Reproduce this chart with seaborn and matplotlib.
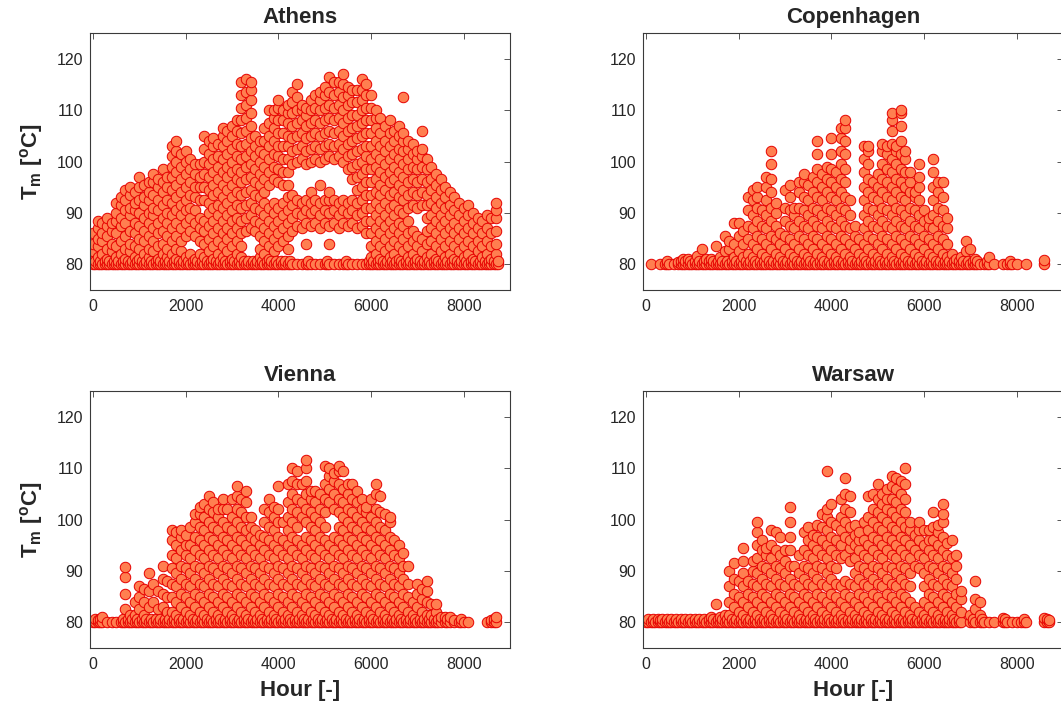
import matplotlib
matplotlib.use("Agg")
import matplotlib.pyplot as plt
import pandas as pd
import seaborn as sns

sns.set_theme(style="white")
plt.rcParams["font.family"] = ["Liberation Sans", "DejaVu Sans"]
plt.rcParams["mathtext.fontset"] = "custom"
plt.rcParams["mathtext.rm"] = "Liberation Sans"
plt.rcParams["mathtext.bf"] = "Liberation Sans:bold"

# ---------------- data ----------------
cities = ["Athens", "Copenhagen", "Vienna", "Warsaw"]
hours = list(range(0, 8800, 100))          # one column of samples per 100 h
x_ticks = [0, 2000, 4000, 6000, 8000]
y_ticks = [80, 90, 100, 110, 120]

athens_temp = [
    [80, 81, 82.5, 84, 86],                                  # 0
    [80, 81.5, 83.5, 85, 87, 88.5],
    [80, 82, 84.5, 86, 88],
    [80, 81, 83, 85.5, 87.5, 89],
    [80, 82.5, 84, 86.5, 88],
    [80, 81.5, 83.5, 86, 88.5, 90, 92],                      # 500
    [80, 82, 84.5, 87.5, 89, 91.5, 93],
    [80, 81, 83, 85.5, 88, 90.5, 92.5, 94.5],
    [80, 82.5, 84, 86.5, 89.5, 91, 93.5, 95],
    [80, 81.5, 83.5, 86, 88, 90.5, 92, 94],
    [80, 81, 83, 85, 87.5, 90, 92.5, 95, 97],                # 1000
    [80, 82, 84.5, 86.5, 89, 91.5, 93, 95.5],
    [80, 81.5, 83, 85.5, 88, 90, 92.5, 94, 96],
    [80, 82.5, 84.5, 87, 89.5, 91, 93.5, 96, 97.5],
    [80, 81, 83.5, 86, 88, 90.5, 92.5, 95, 96.5],
    [80, 82, 84, 86.5, 89, 91.5, 94, 96, 98.5],              # 1500
    [80, 81.5, 83, 85.5, 88, 90, 92.5, 95, 97],
    [80, 82, 84.5, 87, 89.5, 92, 94.5, 97, 99, 101, 103],
    [80, 81, 83, 85.5, 88, 90.5, 93, 95.5, 98, 100, 102, 104],
    [80, 82.5, 84.5, 87, 89.5, 91.5, 94, 96.5, 99, 101.5],
    [80, 81.5, 85.5, 88, 90.5, 92.5, 95, 97.5, 100, 102],    # 2000
    [80, 82, 86.5, 89, 91, 93.5, 96, 98.5, 100.5],
    [80, 81, 85.5, 88, 90.5, 93, 95, 97.5, 99.5],
    [80, 82, 84.5, 87, 89, 92.5, 95, 97, 99.5],
    [80, 81.5, 84, 86.5, 88.5, 92.5, 95, 97.5, 100, 102.5, 105],
    [80, 82.5, 85, 87.5, 90, 92, 94.5, 97, 99.5, 101.5, 104],  # 2500
    [80, 81, 83.5, 86, 88.5, 91, 93.5, 95.5, 98, 100.5, 103, 104.5],
    [80, 82, 84.5, 87, 89.5, 91.5, 94, 96.5, 99, 101, 103.5],
    [80, 81.5, 83.5, 86, 88.5, 91, 93, 95.5, 98, 100.5, 103, 105, 106.5],
    [80, 82.5, 85, 87, 89.5, 92, 94.5, 97, 99, 101.5, 104, 106],
    [80, 81, 83.5, 86, 88.5, 90.5, 93, 95.5, 98, 100, 102.5, 105, 107],  # 3000
    [80, 82, 84.5, 87, 89, 91.5, 94, 96.5, 98.5, 101, 103.5, 106, 108],
    [80, 81.5, 83.5, 86, 88.5, 91, 93.5, 96, 98, 100.5, 103, 105.5, 108,
     110.5, 113, 115.5],
    [80, 86.5, 89, 91.5, 94, 96.5, 99, 101, 103.5, 106, 108.5, 111, 113.5, 116],
    [80, 87, 89.5, 92, 94.5, 97, 99.5, 102, 104.5, 107, 109.5, 112, 114, 115.5],
    [80, 86.5, 88.5, 91, 93.5, 96, 98.5, 101, 103, 105],     # 3500
    [80, 81.5, 83, 85.5, 88, 90.5, 93, 95.5, 97.5, 100, 102, 104],
    [80, 82, 84.5, 87, 89.5, 92, 94, 96.5, 99, 101.5, 104, 106.5],
    [80, 81, 83.5, 86, 88.5, 91, 95.5, 98, 100.5, 103, 105, 107.5, 110],
    [80, 82.5, 85, 87.5, 90, 92, 96.5, 99, 101.5, 104, 106.5, 108.5, 110],
    [80, 83.5, 86, 88.5, 91, 96, 98.5, 101, 103, 105.5, 108, 110.5, 112],  # 4000
    [80, 84.5, 87, 89.5, 92, 95.5, 98, 100.5, 103, 105.5, 108, 110],
    [80, 83, 85.5, 88, 90.5, 93, 95.5, 98, 100.5, 103, 105, 107.5, 109.5, 111],
    [80, 86.5, 89, 91.5, 93.5, 99.5, 102, 104.5, 107, 109.5, 111.5, 113.5],
    [80, 87.5, 90, 92.5, 100, 102.5, 105, 107.5, 110, 112.5, 115],
    [80, 87, 89.5, 92, 100.5, 103, 105.5, 108, 110, 111],    # 4500
    [80, 84, 88, 90.5, 92.5, 99.5, 102, 104.5, 107, 109, 110.5],
    [80, 87.5, 90, 92, 94, 100, 102.5, 105, 107.5, 110, 112],
    [80, 88, 90.5, 92.5, 100.5, 103, 105.5, 108, 110.5, 113],
    [80, 87, 89.5, 92, 95.5, 100, 102.5, 105, 107.5, 110, 112, 113.5],
    [80, 88, 90.5, 92.5, 100.5, 103, 105.5, 108, 110.5, 113, 114.5],  # 5000
    [80, 84, 87.5, 90, 92.5, 94, 101, 103.5, 106, 108.5, 111, 113.5, 116.5],
    [80, 88, 90.5, 92.5, 100.5, 103, 105.5, 108, 110.5, 113, 115.5],
    [80, 87, 89.5, 92, 101, 103.5, 106, 108.5, 111, 113.5, 115.5],
    [80, 88, 90.5, 92.5, 100, 102.5, 105, 107.5, 110, 112.5, 115, 117],
    [80, 87.5, 90, 92, 98.5, 101, 103.5, 106, 108.5, 111, 113, 114.5],  # 5500
    [80, 88, 90.5, 92.5, 96.5, 99, 101.5, 104, 106.5, 109, 111.5, 114],
    [80, 87, 89.5, 92, 94.5, 97, 99.5, 102, 104.5, 107, 109, 111.5, 114],
    [80, 87.5, 90, 92.5, 95, 97.5, 100, 102.5, 105, 107.5, 110, 112, 114, 116],
    [80, 86, 88.5, 91, 93.5, 96, 98.5, 101, 103, 105.5, 108, 110.5, 113, 115],
    [80, 81.5, 83.5, 86, 88.5, 91, 93.5, 96, 98.5, 100.5, 103, 105.5, 108,
     110.5, 113],                                            # 6000
    [80, 82, 84.5, 87, 89.5, 92, 94, 96.5, 99, 101.5, 104, 106.5, 108.5, 110],
    [80, 81, 83.5, 86, 88.5, 91, 93.5, 95.5, 98, 100.5, 103, 105.5, 108.5],
    [80, 82.5, 85, 87.5, 89.5, 92, 94.5, 97, 99.5, 102, 104, 107],
    [80, 81.5, 83.5, 86, 88.5, 91, 93.5, 96, 98, 100.5, 103, 105.5, 108],
    [80, 82, 84.5, 87, 89.5, 91.5, 94, 96.5, 99, 101.5, 104, 106],  # 6500
    [80, 81, 83.5, 86, 88, 90.5, 93, 95.5, 98, 100.5, 102.5, 105, 107],
    [80, 82.5, 85, 87.5, 90, 92.5, 94.5, 97, 99.5, 102, 104, 105.5, 112.5],
    [80, 81.5, 83.5, 86, 88.5, 91, 93.5, 96, 98.5, 100.5, 102.5, 104],
    [80, 82, 84.5, 86.5, 91.5, 94, 96.5, 99, 101.5, 103.5],
    [80, 81, 83.5, 85.5, 91, 93.5, 96, 98.5, 100.5, 102],    # 7000
    [80, 82.5, 85, 91.5, 94, 96.5, 99, 101, 102.5, 106],
    [80, 81.5, 84, 86.5, 89, 91.5, 93.5, 96, 98.5, 100.5],
    [80, 82, 84.5, 87, 89.5, 92, 94.5, 96.5, 99],
    [80, 81, 83.5, 86, 88.5, 91, 93, 95.5, 97.5],
    [80, 82.5, 85, 87.5, 89.5, 92, 94.5, 96.5],              # 7500
    [80, 81.5, 83.5, 86, 88.5, 91, 93, 95],
    [80, 82, 84.5, 87, 89.5, 91.5, 94],
    [80, 81, 83.5, 86, 88, 90.5, 93],
    [80, 82.5, 85, 87, 89.5, 92],
    [80, 81.5, 83.5, 86, 88.5, 91],                          # 8000
    [80, 82, 84.5, 87, 89.5, 91.5],
    [80, 81, 83.5, 86, 88, 90],
    [80, 82.5, 84.5, 87, 89],
    [80, 81.5, 83.5, 86, 88.5],
    [80, 82, 84.5, 87, 89.5],                                # 8500
    [80, 81, 83.5, 86, 89],
    [80, 82, 84, 86.5, 89, 90.5, 92],
]

copenhagen_temp = [
    [], [80], [], [80], [80],                                # 0-400
    [80], [80], [80, 80.5], [80, 81], [80, 81],              # 500-900
    [80], [80, 81.7], [80, 83], [80, 81], [80, 81],          # 1000-1400
    [80, 83.5], [80, 81.5], [80, 82.5, 85.5], [80, 83, 84.5],
    [80, 81.5, 84, 88],
    [80, 82.5, 85.5, 88], [80, 81.5, 84, 86.5],              # 2000
    [80, 82, 85, 87.5, 90.5, 93],
    [80, 81.5, 84, 87, 89.5, 92.5, 94.5],
    [80, 83, 85.5, 88.5, 91, 93, 95],
    [80, 82, 85, 87.5, 90.5],                                # 2500
    [80, 81.5, 84, 87, 89.5, 92.5, 95, 97],
    [80, 83, 85.5, 88.5, 91, 94, 96.5, 99.5, 102],
    [80, 82, 85, 87.5, 90, 92],
    [80, 81.5, 84, 86],
    [80, 83, 85.5, 88.5, 91, 94.5],                          # 3000
    [80, 82, 85, 87.5, 90.5, 93, 95.5],
    [80, 81.5, 84, 87, 89.5, 91],
    [80, 83, 85.5, 88.5, 91, 94, 96],
    [80, 82, 85, 87.5, 90.5, 93, 96, 97.5],
    [80, 81.5, 84, 87, 89.5, 92.5, 95.5],                    # 3500
    [80, 83, 85.5, 88.5, 91, 94, 97],
    [80, 82, 85, 87.5, 90.5, 93, 96, 98.5, 101.5, 104],
    [80, 81.5, 84, 87, 89.5, 92.5, 95, 97.5],
    [80, 83, 85.5, 88.5, 91, 94, 96.5, 99],
    [80, 82, 85, 87.5, 90.5, 93, 96, 98.5, 101.5, 104.5],    # 4000
    [80, 81.5, 84, 87, 89.5, 92.5, 95, 98],
    [80, 83, 85.5, 88.5, 91, 94, 96.5, 99.5, 102, 104.5, 106.5],
    [80, 82, 85, 87.5, 90.5, 93, 96, 98.5, 101.5, 104, 106.5, 108],
    [80, 81.5, 84, 87, 89.5, 92.5],
    [80, 83, 85.5, 87.5],                                    # 4500
    [80, 82, 85],
    [80, 81.5, 84, 87, 89.5, 92.5, 95, 98, 100.5, 103],
    [80, 83, 85.5, 88.5, 91, 94, 96.5, 99.5, 102, 103],
    [80, 82, 85, 87.5, 90.5, 93, 96],
    [80, 81.5, 84, 87, 89.5, 92.5, 95, 97.5],                # 5000
    [80, 83, 85.5, 88.5, 91, 94, 96.5, 99.5, 102, 103.5],
    [80, 82, 85, 87.5, 90.5, 93, 96, 98.5, 101.5, 103],
    [80, 81.5, 84, 87, 89.5, 92.5, 95, 98, 100.5, 103.5, 106, 108, 109.5],
    [80, 83, 85.5, 88.5, 91, 94, 96.5, 99.5, 102, 103],
    [80, 82, 85, 87.5, 90.5, 93, 96, 98.5, 101.5, 104, 107, 109.5, 110],  # 5500
    [80, 81.5, 84, 87, 89.5, 92.5, 95, 98, 100.5, 102],
    [80, 83, 85.5, 88.5, 91, 94, 96, 98],
    [80, 82, 85, 87.5, 90.5, 93, 94],
    [80, 81.5, 84, 87, 89.5, 92.5, 95, 97, 99.5],
    [80, 83, 85.5, 88.5, 90.5],                              # 6000
    [80, 82, 85, 87.5, 89],
    [80, 81.5, 84, 87, 89.5, 92.5, 95, 98, 100.5],
    [80, 83, 85.5, 88.5, 91, 94, 96],
    [80, 82, 85, 87.5, 90.5, 93, 96],
    [80, 81.5, 84, 87, 89],                                  # 6500
    [80, 82], [80, 81], [80, 81.5], [80, 82.5, 84.5],
    [80, 83], [80, 81], [80], [80], [80, 81.5],              # 7000-7400
    [80], [], [80], [80], [80],                              # 7500-7900
    [80], [], [80], [], [],                                  # 8000-8400
    [], [80, 80.8], [],                                      # 8500-8700
]

vienna_temp = [
    [80], [80, 80.5], [80, 81], [80], [80],                  # 0-400
    [80], [80], [80, 82.5, 85.5, 88.8, 90.8], [80, 81.5], [80, 81.5, 84],
    [80, 82.5, 85, 87],                                      # 1000
    [80, 81.5, 84, 86.5],
    [80, 83, 86, 89.5],
    [80, 84, 87.5],
    [80, 82.5, 86],
    [80, 83, 85.5, 88.5, 91],                                # 1500
    [80, 82, 85, 88],
    [80, 82, 85, 87.5, 90.5, 93, 96, 98],
    [80, 81.5, 84, 87, 89.5, 92.5, 95, 97.5],
    [80, 83, 85.5, 88.5, 91, 94, 96.5, 98],
    [80, 82, 85, 87.5, 90.5, 93, 95, 97],                    # 2000
    [80, 81.5, 84, 87, 89.5, 92.5, 95, 98.5],
    [80, 83, 85.5, 88.5, 91, 94, 96.5, 99.5, 101],
    [80, 82, 85, 87.5, 90.5, 93, 96, 98.5, 101, 102.5],
    [80, 81.5, 84, 87, 89.5, 92.5, 95, 98, 100.5, 103],
    [80, 83, 85.5, 88.5, 91, 94, 96.5, 99.5, 102, 104.5],    # 2500
    [80, 82, 85, 87.5, 90.5, 93, 96, 98.5, 101.5, 103.5],
    [80, 81.5, 84, 87, 89.5, 92.5, 95, 98, 100.5, 102],
    [80, 83, 85.5, 88.5, 91, 94, 96.5, 99.5, 102, 104],
    [80, 82, 85, 87.5, 90.5, 93, 96, 98.5, 102],
    [80, 81.5, 84, 87, 89.5, 92.5, 95, 98, 100.5, 104],      # 3000
    [80, 83, 85.5, 88.5, 91, 94, 96.5, 99.5, 102, 104.5, 106.5],
    [80, 82, 85, 87.5, 90.5, 93, 96, 98.5, 101.5, 104],
    [80, 81.5, 84, 87, 89.5, 92.5, 95, 98, 100.5, 103.5, 105.5],
    [80, 83, 85.5, 88.5, 91, 94, 96.5, 98.5, 100.5],
    [80, 82, 85, 87.5, 90.5, 93, 96, 98],                    # 3500
    [80, 81.5, 84, 87, 89.5, 92.5, 95, 97],
    [80, 83, 85.5, 88.5, 91, 94, 96.5, 99.5, 102],
    [80, 82, 85, 87.5, 90.5, 93, 96, 98.5, 101.5, 104],
    [80, 81.5, 84, 87, 89.5, 92.5, 95, 98, 100.5, 102.5],
    [80, 83, 85.5, 88.5, 91, 94, 96.5, 99.5, 102, 106.5],    # 4000
    [80, 82, 85, 87.5, 90.5, 93, 96, 99.5],
    [80, 81.5, 84, 87, 89.5, 92.5, 95, 98, 100.5, 103.5, 107],
    [80, 83, 85.5, 88.5, 91, 94, 96.5, 99.5, 102, 105, 107.5, 110],
    [80, 82, 85, 87.5, 90.5, 93, 96, 98.5, 101.5, 104, 107, 109.5],
    [80, 81.5, 84, 87, 89.5, 92.5, 95, 100.5, 103.5, 107],   # 4500
    [80, 83, 85.5, 88.5, 91, 94, 96.5, 99.5, 102, 105, 107.5, 110, 111.5],
    [80, 82, 85, 87.5, 90.5, 93, 96, 98.5, 101.5, 104, 105.5],
    [80, 81.5, 84, 87, 89.5, 92.5, 95, 98, 100.5, 103.5, 105.5],
    [80, 83, 85.5, 88.5, 91, 94, 96.5, 99.5, 102, 105],
    [80, 82, 85, 87.5, 90.5, 93, 96, 98.5, 101.5, 104, 107, 110.5],  # 5000
    [80, 81.5, 84, 87, 89.5, 92.5, 95, 103.5, 106, 108.5, 110],
    [80, 83, 85.5, 88.5, 91, 94, 96.5, 102, 105, 107.5, 109],
    [80, 82, 85, 87.5, 90.5, 93, 96, 98.5, 101.5, 104, 107, 109.5, 110.5],
    [80, 81.5, 84, 87, 89.5, 92.5, 95, 98, 100.5, 103.5, 106, 109.5],
    [80, 83, 85.5, 88.5, 91, 94, 96.5, 99.5, 102, 105, 107],  # 5500
    [80, 82, 85, 87.5, 90.5, 93, 96, 98.5, 101.5, 104, 107],
    [80, 81.5, 84, 87, 89.5, 92.5, 95, 98, 100.5, 103.5, 105.5],
    [80, 83, 85.5, 88.5, 91, 94, 96.5, 99.5, 102, 104],
    [80, 82, 85, 87.5, 90.5, 93, 96, 98.5, 101.5, 102.5],
    [80, 81.5, 84, 87, 89.5, 92.5, 95, 98, 100.5, 104],      # 6000
    [80, 83, 85.5, 88.5, 91, 94, 96.5, 99.5, 102, 105, 107],
    [80, 82, 85, 87.5, 90.5, 93, 96, 98.5, 101.5, 104.5],
    [80, 81.5, 84, 87, 89.5, 92.5, 95, 98, 101],
    [80, 83, 85.5, 88.5, 91, 94, 96.5, 99.5, 100.5],
    [80, 82, 85, 87.5, 90.5, 93, 96],                        # 6500
    [80, 81.5, 84, 87, 89.5, 92.5, 95],
    [80, 83, 85.5, 88.5, 91, 93.5],
    [80, 82, 85, 87.5, 91],
    [80, 81.5, 84],
    [80, 83, 85.5, 87.5],                                    # 7000
    [80, 82, 84.5, 86.5],
    [80, 81.5, 84, 86, 88],
    [80, 81.5, 83.5],
    [80, 82, 83.5],
    [80, 81], [80, 81], [80, 81], [80, 80.5], [80],          # 7500-7900
    [80], [80], [], [], [],                                  # 8000-8400
    [80], [80, 80.5], [80, 81],                              # 8500-8700
]

warsaw_temp = [
    [80], [80], [80], [80, 80.5], [80],                      # 0-400
    [80], [80], [80], [80], [80],                            # 500-900
    [80], [80], [80], [80], [80, 81],                        # 1000-1400
    [80, 83.5], [80, 81], [80, 81.5],
    [80, 81.5, 84, 87, 90],
    [80, 83, 85.5, 88.5, 91.5],
    [80, 82, 85, 88],                                        # 2000
    [80, 81.5, 84, 87, 89.5, 92, 94.5],
    [80, 83, 85.5, 88],
    [80, 82, 85, 87.5, 90, 92],
    [80, 81.5, 84, 87, 89.5, 92.5, 95, 97.5, 99.5],
    [80, 83, 85.5, 88.5, 91, 94, 96],                        # 2500
    [80, 82, 85, 87.5, 90.5, 93, 94.5],
    [80, 81.5, 84, 87, 89.5, 92.5, 95, 98],
    [80, 83, 85.5, 88.5, 91, 94, 97.5],
    [80, 82, 85, 87.5, 90.5, 93, 96.5],
    [80, 81.5, 84, 87, 89.5, 92, 94],                        # 3000
    [80, 83, 85.5, 88.5, 91, 94, 96.5, 99.5, 102.5],
    [80, 82, 85, 87.5, 91],
    [80, 81.5, 84, 87, 89.5, 93],
    [80, 83, 85.5, 88.5, 91, 94, 97.5],
    [80, 82, 85, 87.5, 90.5, 93, 96, 98.5],                  # 3500
    [80, 81.5, 84, 87, 89.5, 92.5, 95, 97],
    [80, 83, 85.5, 88.5, 91, 94, 96.5, 99],
    [80, 82, 85, 87.5, 90.5, 93, 96, 98.5, 101],
    [80, 81.5, 84, 87, 89.5, 92.5, 95, 98, 100.5, 102, 109.5],
    [80, 83, 85.5, 88.5, 91, 94, 96.5, 99.5, 103],           # 4000
    [80, 82, 85, 87.5, 90.5, 93, 96, 99],
    [80, 81.5, 84, 87, 92.5, 95, 98, 100.5, 104],
    [80, 83, 85.5, 88, 93, 96.5, 99.5, 102, 105, 108],
    [80, 82, 85, 87.5, 92, 94.5, 96, 98.5, 101.5, 104.5],
    [80, 81.5, 84, 87, 89.5, 92.5, 95, 97, 99],              # 4500
    [80, 83, 85.5, 88.5, 91, 94, 96, 97.5],
    [80, 82, 85, 87.5, 90.5, 93, 96, 99.5],
    [80, 81.5, 84, 87, 89.5, 92.5, 95, 98, 100.5, 104.5],
    [80, 83, 85.5, 88.5, 91, 94, 96.5, 99.5, 102, 105],
    [80, 82, 85, 87.5, 90.5, 93, 96, 98.5, 101.5, 104, 107],  # 5000
    [80, 81.5, 84, 87, 89.5, 92.5, 95, 98, 100.5, 103, 105],
    [80, 83, 85.5, 88.5, 91, 94, 96.5, 99.5, 102, 104, 106],
    [80, 82, 85, 87.5, 90.5, 93, 96, 98.5, 101.5, 104, 106.5, 108.5],
    [80, 81.5, 84, 87, 89.5, 92.5, 95, 98, 100.5, 103.5, 106, 108],
    [80, 83, 85.5, 88.5, 91, 94, 96.5, 99.5, 102, 105, 107.5],  # 5500
    [80, 82, 85, 87.5, 90.5, 93, 96, 98.5, 101.5, 104, 107, 110],
    [80, 81.5, 84, 87, 89.5, 92.5, 95, 98, 99.5],
    [80, 83, 91, 94, 97],
    [80, 82, 90.5, 93, 96, 98, 99.5],
    [80, 81.5, 84, 87, 89.5, 92.5, 95, 98],                  # 6000
    [80, 83, 85.5, 88.5, 91, 94, 96, 98],
    [80, 82, 85, 87.5, 90.5, 93, 96, 98.5, 101.5],
    [80, 81.5, 84, 87, 89.5, 92.5, 95, 97.5, 99],
    [80, 83, 85.5, 88.5, 91, 94, 96.5, 99.5, 101, 103],
    [80, 82, 85, 87.5, 90.5, 93, 95.5],                      # 6500
    [80, 81.5, 84, 87, 89.5, 92.5, 96],
    [80, 83, 85.5, 88.5, 91, 93],
    [80, 82, 84.5, 86],
    [],
    [80, 81.5], [80, 82.5, 84.5, 88], [80, 81.5, 84], [80], [80],    # 7000-7400
    [80], [], [80, 80.8], [80], [80],                        # 7500-7900
    [80], [80], [80], [], [],                                # 8000-8400
    [], [80, 80.8], [80, 80.5],                              # 8500-8700
]

# extra samples sitting on the 80 degC floor band (hours)
athens_base = [50, 150, 250, 350, 450, 550, 650, 750, 850, 950, 1050, 1150,
               1250, 1350, 1450, 1550, 1650, 1750, 1850, 1950, 2050, 2150,
               2250, 2350, 2450, 2550, 2650, 2750, 2850, 2950, 3050, 3150,
               3250, 3350, 3450, 3550, 3650, 3750, 3850, 3950, 4050, 4150,
               4250, 4650, 5050, 5450, 5950, 6050, 6150, 6250, 6350, 6450,
               6550, 6650, 6750, 6850, 6950, 7050, 7150, 7250, 7350, 7450,
               7550, 7650, 7750, 7850, 7950, 8050, 8150, 8250, 8350, 8450,
               8550, 8650, 8750]
copenhagen_base = [450, 750, 850, 950, 1050, 1150, 1250, 1350, 1450, 1550,
                   1650, 1750, 1850, 1950, 2050, 2150, 2250, 2350, 2450, 2550,
                   2650, 2750, 2850, 2950, 3050, 3150, 3250, 3350, 3450, 3550,
                   3650, 3750, 3850, 3950, 4050, 4150, 4250, 4350, 4450, 4550,
                   4650, 4750, 4850, 4950, 5050, 5150, 5250, 5350, 5450, 5550,
                   5650, 5750, 5850, 5950, 6050, 6150, 6250, 6350, 6450, 6550,
                   6650, 6750, 6850, 6950, 7050, 7150, 7350, 7850]
vienna_base = [50, 150, 650, 750, 850, 950, 1050, 1150, 1250, 1350, 1450,
               1550, 1650, 1750, 1850, 1950, 2050, 2150, 2250, 2350, 2450,
               2550, 2650, 2750, 2850, 2950, 3050, 3150, 3250, 3350, 3450,
               3550, 3650, 3750, 3850, 3950, 4050, 4150, 4250, 4350, 4450,
               4550, 4650, 4750, 4850, 4950, 5050, 5150, 5250, 5350, 5450,
               5550, 5650, 5750, 5850, 5950, 6050, 6150, 6250, 6350, 6450,
               6550, 6650, 6750, 6850, 6950, 7050, 7150, 7250, 7350, 7450,
               7650, 7950, 8650]
warsaw_base = [50, 150, 250, 350, 450, 550, 650, 750, 850, 950, 1050, 1150,
               1250, 1350, 1450, 1550, 1650, 1750, 1850, 1950, 2050, 2150,
               2250, 2350, 2450, 2550, 2650, 2750, 2850, 2950, 3050, 3150,
               3250, 3350, 3450, 3550, 3650, 3750, 3850, 3950, 4050, 4150,
               4250, 4350, 4450, 4550, 4650, 4750, 4850, 4950, 5050, 5150,
               5250, 5350, 5450, 5550, 5650, 5750, 5850, 5950, 6050, 6150,
               6250, 6350, 6450, 6550, 6650, 6750, 7050, 7250, 7750, 8150,
               8650]
floor_temps = [80, 80.7]     # the floor band is ~80-80.7 degC thick

all_temps = [athens_temp, copenhagen_temp, vienna_temp, warsaw_temp]
all_base = [athens_base, copenhagen_base, vienna_base, warsaw_base]

# ---------------- layout ----------------
W, H = 1061, 709
fig = plt.figure(figsize=(W / 100, H / 100), dpi=100)
origins = {"Athens": (90, 33), "Copenhagen": (643, 33),
           "Vienna": (90, 391), "Warsaw": (643, 391)}
aw, ah = 420, 257
face = "#FF7F50"
edge = "#E60000"
axis_col = "#3a3a3a"

for i, (city, temps, base) in enumerate(zip(cities, all_temps, all_base)):
    rows = [(h, t) for h, col in zip(hours, temps) for t in col]
    rows += [(h, t) for h in base for t in floor_temps]
    rows.sort(key=lambda r: r[0])
    df = pd.DataFrame(rows, columns=["Hour", "Tm"])
    left, top = origins[city]
    ax = fig.add_axes([left / W, 1 - (top + ah) / H, aw / W, ah / H])
    sns.scatterplot(data=df, x="Hour", y="Tm", ax=ax, s=57, color=face,
                    edgecolor=edge, linewidth=0.7, legend=False)
    ax.set_xlim(-65, 9000)
    ax.set_ylim(75, 125)
    ax.set_xticks(x_ticks)
    ax.set_yticks(y_ticks)
    ax.tick_params(direction="in", top=True, right=True, length=4, width=0.6,
                   color=axis_col, labelcolor="#262626", labelsize=11.5)
    ax.tick_params(axis="x", pad=6.5)
    ax.tick_params(axis="y", pad=5)
    for sp in ax.spines.values():
        sp.set_color(axis_col)
        sp.set_linewidth(0.8)
    ax.set_title(city, fontsize=16, fontweight="bold", pad=7)
    if i % 2 == 0:
        ax.set_ylabel(r"T$_\mathbf{m}$ [$^\mathbf{o}$C]", fontsize=16,
                      fontweight="bold")
        ax.yaxis.set_label_coords(-0.107, 0.5)
    else:
        ax.set_ylabel("")
    if i >= 2:
        ax.set_xlabel("Hour [-]", fontsize=16, fontweight="bold")
        ax.xaxis.set_label_coords(0.5, -0.125)
    else:
        ax.set_xlabel("")

fig.savefig("out.png", dpi=100)
